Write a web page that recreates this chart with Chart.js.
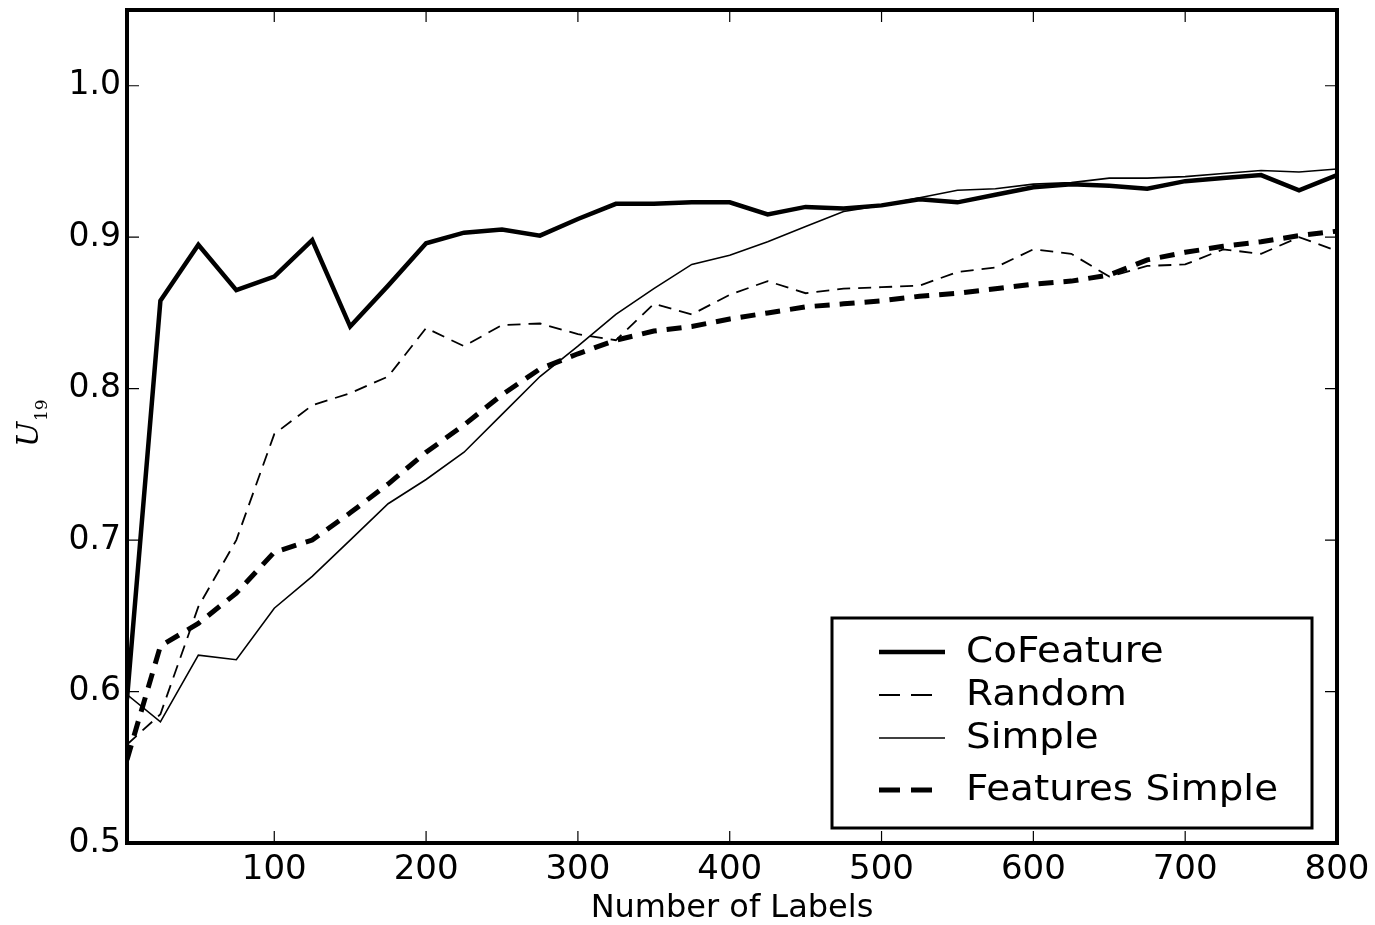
<!DOCTYPE html>
<html>
<head>
<meta charset="utf-8">
<script src="https://cdn.jsdelivr.net/npm/chart.js@4/dist/chart.umd.min.js"></script>
<style>
  html, body { margin: 0; padding: 0; background: #fff; }
  #wrap { width: 1375px; height: 925px; }
</style>
</head>
<body>
<div id="wrap"><canvas id="uChart" width="1375" height="925"></canvas></div>
<script>
// number of labels (x) and U19 values per method
const labelCounts = [3, 25, 50, 75, 100, 125, 150, 175, 200, 225, 250, 275, 300, 325, 350, 375, 400,
  425, 450, 475, 500, 525, 550, 575, 600, 625, 650, 675, 700, 725, 750, 775, 800];
const coFeature = [0.595, 0.858, 0.895, 0.865, 0.874, 0.898, 0.841, 0.868, 0.896, 0.903, 0.905, 0.901,
  0.912, 0.922, 0.922, 0.923, 0.923, 0.915, 0.920, 0.919, 0.921, 0.925, 0.923, 0.928, 0.933, 0.935,
  0.934, 0.932, 0.937, 0.939, 0.941, 0.931, 0.941];
const random = [0.565, 0.585, 0.656, 0.700, 0.770, 0.789, 0.797, 0.808, 0.840, 0.828, 0.842, 0.843,
  0.836, 0.832, 0.856, 0.849, 0.862, 0.871, 0.863, 0.866, 0.867, 0.868, 0.877, 0.880, 0.892, 0.889,
  0.874, 0.881, 0.882, 0.892, 0.889, 0.900, 0.891];
const simple = [0.598, 0.580, 0.624, 0.621, 0.655, 0.676, 0.700, 0.724, 0.740, 0.758, 0.783, 0.808,
  0.828, 0.849, 0.866, 0.882, 0.888, 0.897, 0.907, 0.917, 0.921, 0.926, 0.931, 0.932, 0.935, 0.936,
  0.939, 0.939, 0.940, 0.942, 0.944, 0.943, 0.945];
const featuresSimple = [0.555, 0.630, 0.645, 0.665, 0.692, 0.700, 0.718, 0.737, 0.758, 0.776, 0.796,
  0.813, 0.823, 0.832, 0.838, 0.841, 0.846, 0.850, 0.854, 0.856, 0.858, 0.861, 0.863, 0.866, 0.869,
  0.871, 0.875, 0.885, 0.890, 0.894, 0.897, 0.901, 0.904];

const xTicks = [100, 200, 300, 400, 500, 600, 700, 800];
const yTicks = [0.5, 0.6, 0.7, 0.8, 0.9, 1.0];

const toPoints = (ys) => labelCounts.map((x, i) => ({ x: x, y: ys[i] }));

// frame, inward tick marks, y title and boxed legend
const decorations = {
  id: 'decorations',
  afterDraw(chart) {
    const ctx = chart.ctx;
    const a = chart.chartArea;
    const xs = chart.scales.x, ys = chart.scales.y;
    ctx.save();
    ctx.strokeStyle = '#000';
    ctx.lineWidth = 1.2;
    ctx.beginPath();
    xTicks.forEach(v => {
      const px = xs.getPixelForValue(v);
      ctx.moveTo(px, a.bottom); ctx.lineTo(px, a.bottom - 12);
      ctx.moveTo(px, a.top); ctx.lineTo(px, a.top + 12);
    });
    yTicks.forEach(v => {
      const py = ys.getPixelForValue(v);
      ctx.moveTo(a.left, py); ctx.lineTo(a.left + 12, py);
      ctx.moveTo(a.right, py); ctx.lineTo(a.right - 12, py);
    });
    ctx.stroke();

    ctx.lineWidth = 4;
    ctx.strokeRect(a.left, a.top, a.right - a.left, a.bottom - a.top);

    // y axis title U_19
    ctx.translate(38, 447);
    ctx.rotate(-Math.PI / 2);
    ctx.fillStyle = '#000';
    ctx.textBaseline = 'alphabetic';
    ctx.font = 'italic 30px "DejaVu Serif"';
    ctx.fillText('U', 0, 0);
    ctx.font = '17px "DejaVu Serif"';
    ctx.fillText('19', 26, 9);
    ctx.setTransform(1, 0, 0, 1, 0, 0);

    // legend box
    const bx = 832, by = 618, bw = 480, bh = 210;
    ctx.fillStyle = '#fff';
    ctx.fillRect(bx, by, bw, bh);
    ctx.lineWidth = 3;
    ctx.strokeRect(bx, by, bw, bh);
    const rowsY = [652, 695, 738, 790];
    chart.data.datasets.forEach((ds, i) => {
      const y = rowsY[i];
      const dashed = ds.borderDash && ds.borderDash.length;
      ctx.strokeStyle = ds.borderColor;
      ctx.lineWidth = ds.borderWidth;
      ctx.setLineDash(dashed ? [21, 11] : []);
      ctx.beginPath();
      ctx.moveTo(879, y); ctx.lineTo(dashed ? 932 : 945, y);
      ctx.stroke();
      ctx.setLineDash([]);
      ctx.fillStyle = '#000';
      ctx.font = '35px "DejaVu Sans"';
      ctx.textBaseline = 'middle';
      ctx.save();
      ctx.translate(966, y + 1);
      ctx.scale(1.11, 1);
      ctx.fillText(ds.label, 0, 0);
      ctx.restore();
    });
    ctx.restore();
  }
};

new Chart(document.getElementById('uChart').getContext('2d'), {
  type: 'line',
  data: {
    datasets: [
      { label: 'CoFeature', data: toPoints(coFeature), borderColor: '#000', borderWidth: 4.5 },
      { label: 'Random', data: toPoints(random), borderColor: '#000', borderWidth: 1.8, borderDash: [13, 8] },
      { label: 'Simple', data: toPoints(simple), borderColor: '#000', borderWidth: 1.6 },
      { label: 'Features Simple', data: toPoints(featuresSimple), borderColor: '#000', borderWidth: 5, borderDash: [15, 10] }
    ]
  },
  options: {
    responsive: false,
    animation: false,
    layout: { padding: { top: 10, right: 38, left: 0, bottom: 0 } },
    elements: { point: { radius: 0 }, line: { tension: 0, borderCapStyle: 'butt' } },
    plugins: { legend: { display: false }, tooltip: { enabled: false } },
    scales: {
      x: {
        type: 'linear', min: 3, max: 800,
        afterBuildTicks: s => { s.ticks = xTicks.map(v => ({ value: v })); },
        afterFit: s => { s.height = 82; s.paddingLeft = 0; s.paddingRight = 0; },
        grid: { display: false, drawTicks: false },
        border: { display: false },
        ticks: { color: '#000', font: { family: 'DejaVu Sans', size: 34 }, padding: 7, maxRotation: 0 },
        title: { display: true, text: 'Number of Labels', color: '#000', font: { family: 'DejaVu Sans', size: 32, lineHeight: 1.0 }, padding: { top: 0, bottom: 0 } }
      },
      y: {
        type: 'linear', min: 0.5, max: 1.05,
        afterBuildTicks: s => { s.ticks = yTicks.map(v => ({ value: v })); },
        afterFit: s => { s.width = 127; s.paddingTop = 0; s.paddingBottom = 0; },
        grid: { display: false, drawTicks: false },
        border: { display: false },
        ticks: { color: '#000', font: { family: 'DejaVu Sans', size: 33 }, padding: 6, callback: v => v.toFixed(1) }
      }
    }
  },
  plugins: [decorations]
});
</script>
</body>
</html>
